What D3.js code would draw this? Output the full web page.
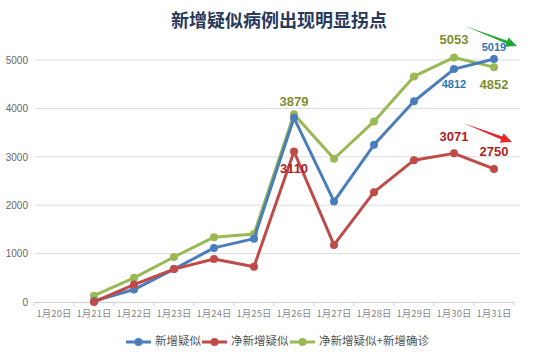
<!DOCTYPE html>
<html><head><meta charset="utf-8">
<script src="https://cdn.jsdelivr.net/npm/d3@7"></script>
<style>body{margin:0;background:#fff}svg{display:block}</style>
</head><body>
<svg id="c" width="534" height="356"></svg>
<script>
const categories = ["1月20日","1月21日","1月22日","1月23日","1月24日","1月25日","1月26日","1月27日","1月28日","1月29日","1月30日","1月31日"];
const seriesNames = ["新增疑似","净新增疑似","净新增疑似+新增确诊"];
const newSuspected    = [null, 20, 257, 680, 1118, 1309, 3806, 2077, 3248, 4148, 4812, 5019];
const netSuspected    = [null, 0, 360, 680, 890, 730, 3110, 1180, 2270, 2930, 3071, 2750];
const netPlusConfirmed= [null, 130, 500, 930, 1340, 1405, 3879, 2960, 3730, 4660, 5053, 4852];
const yTicks = [0,1000,2000,3000,4000,5000];
const colors = ["#4a7ebb","#be4b48","#98b954"];

const svg = d3.select("#c");
const x = d3.scaleBand().domain(categories).range([34, 514]);
const y = d3.scaleLinear().domain([0,5000]).range([302, 60]);
const cx = c => x(c) + x.bandwidth()/2;

// title
svg.append("text").attr("x",279).attr("y",27).attr("text-anchor","middle")
  .attr("font-family","'Noto Sans CJK SC'").attr("font-weight","bold")
  .attr("font-size",18).attr("fill","#2a3a5c").text("新增疑似病例出现明显拐点");

// grid
svg.append("g").selectAll("line").data(yTicks.slice(1)).join("line")
  .attr("x1",35).attr("x2",520).attr("y1",d=>y(d)).attr("y2",d=>y(d))
  .attr("stroke","#dcdcdc").attr("stroke-width",1);

// y axis labels
const yAxis = svg.append("g").attr("transform","translate(35,0)")
  .call(d3.axisLeft(y).tickValues(yTicks).tickFormat(d3.format("d")).tickSize(0).tickPadding(7));
yAxis.select(".domain").remove();
yAxis.selectAll("text").attr("font-family","'Liberation Sans',Arial").attr("font-size",10).attr("fill","#666");

// x axis
const xAxis = svg.append("g").attr("transform","translate(0,302)")
  .call(d3.axisBottom(x).tickSize(0).tickPadding(8));
xAxis.select(".domain").attr("stroke","#cfcfcf");
xAxis.selectAll("text").attr("font-family","'Noto Sans CJK SC'").attr("font-size",9.5).attr("fill","#888");
svg.append("g").selectAll("line").data(categories.concat([null])).join("line")
  .attr("x1",(d,i)=>x.range()[0]+i*x.step()).attr("x2",(d,i)=>x.range()[0]+i*x.step())
  .attr("y1",302).attr("y2",306).attr("stroke","#cfcfcf");

// series
const allSeries = [newSuspected, netSuspected, netPlusConfirmed];
const line = d3.line().defined(d=>d.v!=null).x(d=>cx(d.c)).y(d=>y(d.v));
[2,0,1].forEach(si=>{
  const data = categories.map((c,i)=>({c, v: allSeries[si][i]}));
  svg.append("path").datum(data).attr("d",line).attr("fill","none")
    .attr("stroke",colors[si]).attr("stroke-width",3).attr("stroke-linejoin","round");
  svg.append("g").selectAll("circle").data(data.filter(d=>d.v!=null)).join("circle")
    .attr("cx",d=>cx(d.c)).attr("cy",d=>y(d.v)).attr("r",4).attr("fill",colors[si]);
});

// data labels: [seriesIndex, categoryIndex, dx, dy, size]
const labelColors = ["#2e75b6","#b01e23","#7f8f2e"];
const labels = [[2,6,0,-12,13],[1,6,0,18,13],[2,10,0,-17,13],[0,11,0,-11,11],[0,10,0,16,11],[2,11,0,18,13],[1,10,0,-16,13],[1,11,0,-16,13]];
labels.forEach(([si,ci,dx,dy,fs])=>{
  const v = allSeries[si][ci];
  svg.append("text").attr("x",cx(categories[ci])+dx).attr("y",y(v)+dy)
    .attr("text-anchor","middle").attr("dominant-baseline","middle")
    .attr("font-family","'Liberation Sans',Arial").attr("font-weight","bold")
    .attr("font-size",fs).attr("fill",labelColors[si]).text(v);
});

// arrows
function arrow(x1,y1,x2,y2,col){
  const a = Math.atan2(y2-y1,x2-x1), L=11, W=5;
  const bx = x2 - L*Math.cos(a), by = y2 - L*Math.sin(a);
  svg.append("path").attr("d",`M${x1},${y1} L${bx+W*0.3*Math.sin(a)},${by-W*0.3*Math.cos(a)} L${bx+W*Math.sin(a)},${by-W*Math.cos(a)} L${x2},${y2} L${bx-W*Math.sin(a)},${by+W*Math.cos(a)} L${bx-W*0.3*Math.sin(a)},${by+W*0.3*Math.cos(a)} Z`)
    .attr("fill",col);
}
arrow(465,26,517,46,"#22a832");
arrow(463,123,512,142,"#e8262a");

// legend
const legX = [126, 202, 290];
seriesNames.forEach((n,i)=>{
  const g = svg.append("g").attr("transform",`translate(${legX[i]},342)`);
  g.append("line").attr("x1",0).attr("x2",25).attr("stroke",colors[i]).attr("stroke-width",3);
  g.append("circle").attr("cx",12.5).attr("r",4).attr("fill",colors[i]);
  g.append("text").attr("x",29).attr("y",0).attr("dominant-baseline","middle")
    .attr("font-family","'Noto Sans CJK SC'").attr("font-size",11.5).attr("fill","#555").text(n);
});
</script>
</body></html>
